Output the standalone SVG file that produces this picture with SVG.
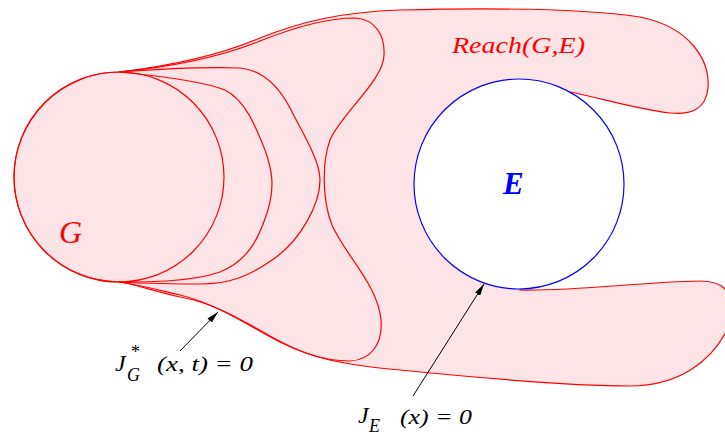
<svg xmlns="http://www.w3.org/2000/svg" width="725" height="437" viewBox="0 0 725 437">
<defs>
<style>
.r{fill:none;stroke:#ff0000;stroke-width:1.2}
.t{font-family:"Liberation Serif","Times New Roman","DejaVu Serif",serif;font-style:italic}
.u{font-family:"Liberation Serif","Times New Roman","DejaVu Serif",serif}
.k{fill:#000}
.a{stroke:#000;stroke-width:1;fill:none}
</style>
<marker id="ah" viewBox="0 0 12 6" refX="12" refY="3" markerWidth="12" markerHeight="6" markerUnits="userSpaceOnUse" orient="auto">
<path d="M0,0 L12,3 L0,6 Z" fill="#000"/>
</marker>
</defs>
<rect width="725" height="437" fill="#fff"/>
<g id="reach">
<path d="M119,72 C170,66 220,55 260,38 C300,22 340,12 400,10 C480,8 580,8 640,17 C690,27 710,60 708,88 C706,110 690,115 670,113 C640,110 600,98 570,92 L520,290 C580,291 640,282 700,281 C730,281 738,300 727,330 C712,360 680,386 630,386 C560,386 450,375 400,370 C340,365 310,357 280,342 C250,327 220,305 180,295 C150,288 130,283 119,282 A105,105 0 0 1 119,72 Z" fill="#fde4e6" stroke="#ff0000" stroke-width="1.2"/>
<text class="t" x="452" y="53" font-size="24" fill="#ff0000" textLength="133" lengthAdjust="spacingAndGlyphs">Reach(G,E)</text>
</g>
<g id="G">
<circle cx="119" cy="177" r="105" class="r"/>
<text class="t" x="59" y="243" font-size="32" fill="#ff0000">G</text>
</g>
<g id="level-sets">
<path class="r" d="M119,72 C150,75 200,80 225,90 C245,100 255,125 265,150 C272,170 275,185 268,210 C260,235 250,260 220,272 C190,282 150,282 119,282"/>
<path class="r" d="M119,72 C160,69 210,67 240,68 C262,70 278,85 290,108 C302,132 320,160 320,180 C320,205 300,240 275,258 C250,276 230,284 200,284 C170,284 140,283 119,282"/>
<path class="r" d="M119,72 C170,67 220,57 260,41 C300,25 330,18 355,18 C375,19 385,35 384,55 C384,80 340,115 330,140 C322,162 322,200 332,225 C345,255 378,285 381,320 C383,345 370,360 350,361 C320,361 295,350 270,336 C245,322 215,303 180,297 C150,290 130,283 119,282"/>
</g>
<g id="E">
<circle cx="519" cy="184" r="105" fill="#fff" stroke="#0000ff" stroke-width="1.2"/>
<text class="t" x="503" y="194" font-size="31" font-weight="bold" fill="#0000ff">E</text>
</g>
<g id="connectors">
<line class="a" x1="180" y1="351" x2="218" y2="312" marker-end="url(#ah)"/>
<line class="a" x1="413" y1="396" x2="484" y2="284" marker-end="url(#ah)"/>
</g>
<g id="label-JG">
<text class="t k" x="115" y="371" font-size="24">J</text>
<text class="u k" x="131" y="358" font-size="18">*</text>
<text class="t k" x="127" y="381" font-size="18">G</text>
<text class="t k" x="157" y="371" font-size="22" textLength="96" lengthAdjust="spacingAndGlyphs">(x, t) = 0</text>
</g>
<g id="label-JE">
<text class="t k" x="358" y="423" font-size="24">J</text>
<text class="t k" x="369" y="432" font-size="18">E</text>
<text class="t k" x="400" y="424" font-size="22" textLength="72" lengthAdjust="spacingAndGlyphs">(x) = 0</text>
</g>
</svg>
